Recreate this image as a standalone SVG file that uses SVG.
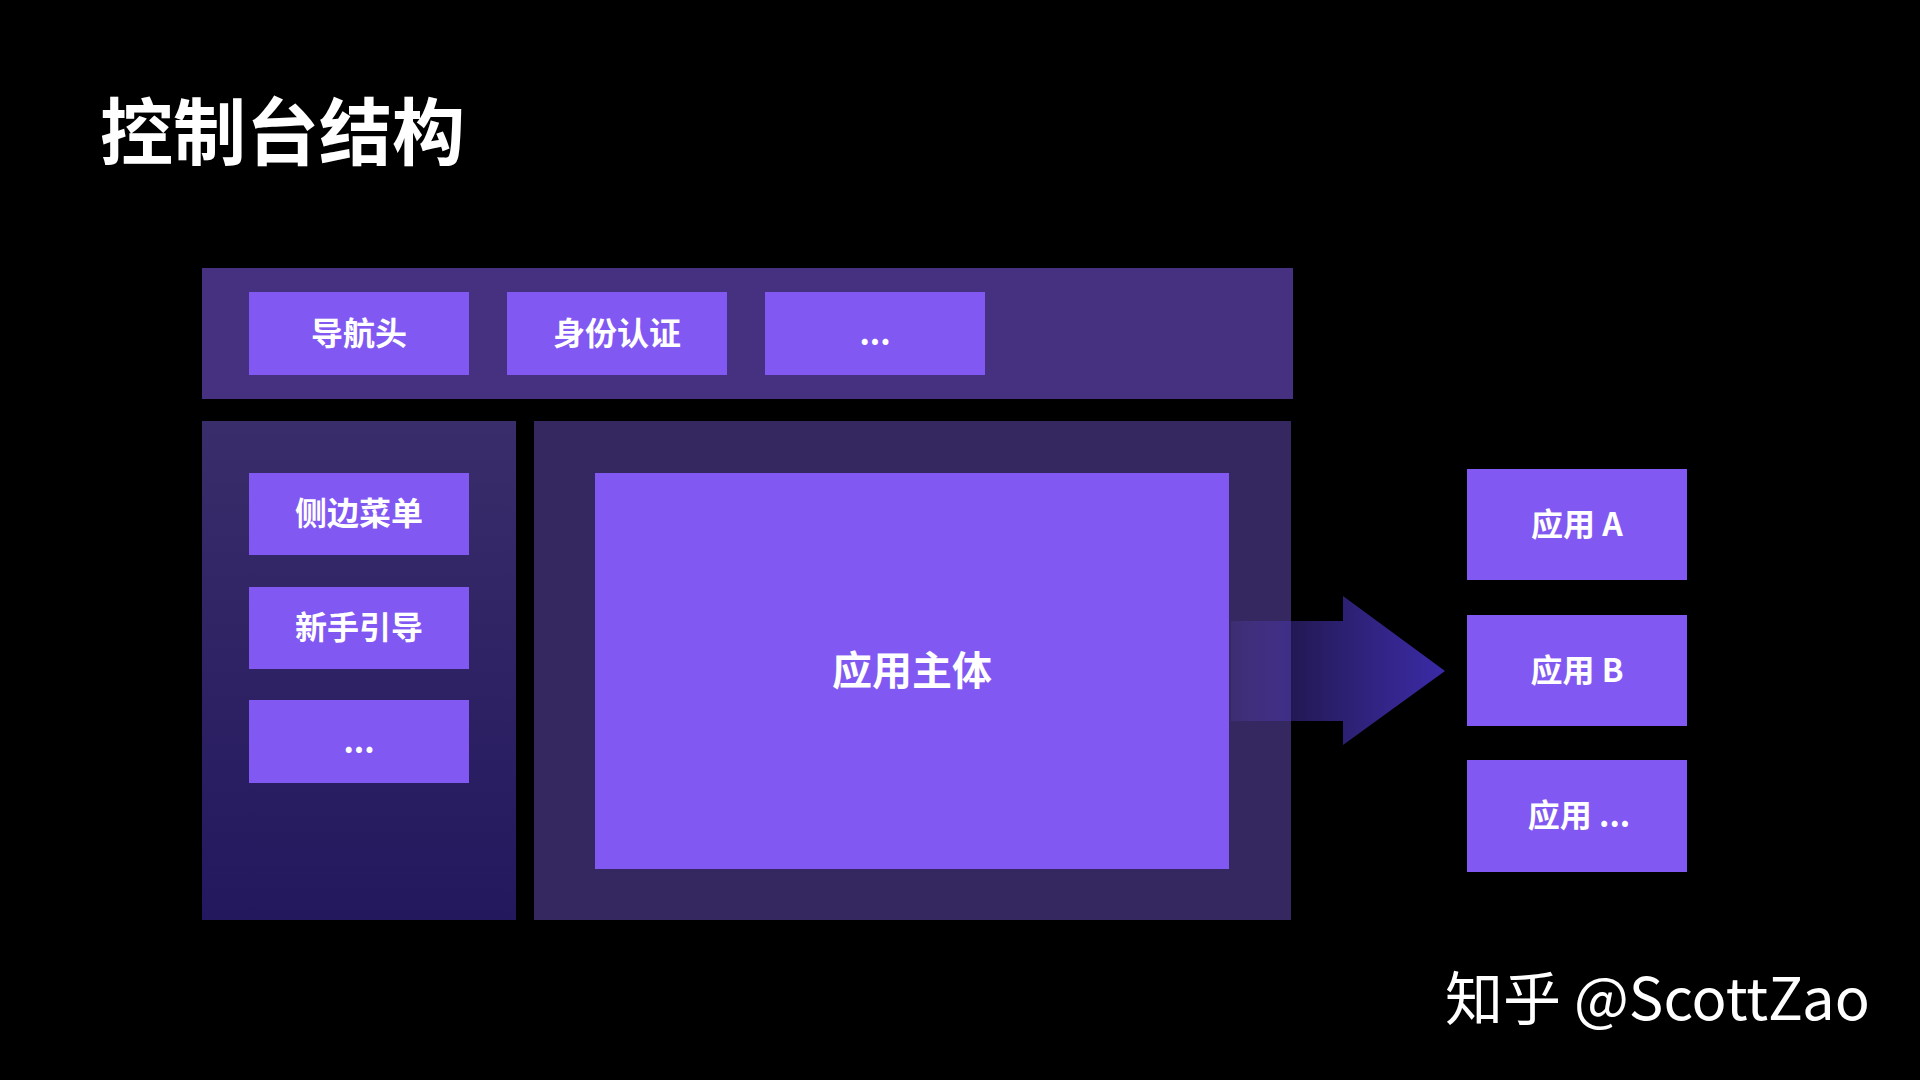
<svg xmlns="http://www.w3.org/2000/svg" width="1920" height="1080" viewBox="0 0 1920 1080">
<defs>
<style>
.box{fill:#8258f2}
.lbl{font-family:"Noto Sans CJK SC","Noto Sans",sans-serif;font-weight:bold;fill:#ffffff;text-anchor:middle;font-size:32px}
</style>
<linearGradient id="leftGrad" x1="0" y1="0" x2="0" y2="1">
<stop offset="0" stop-color="#3a2d6b"/>
<stop offset="1" stop-color="#23185e"/>
</linearGradient>
<linearGradient id="arrowGrad" gradientUnits="userSpaceOnUse" x1="1231" y1="0" x2="1445" y2="0">
<stop offset="0" stop-color="#6a50e0" stop-opacity="0.15"/>
<stop offset="0.28" stop-color="#4a36b8" stop-opacity="0.45"/>
<stop offset="1" stop-color="#3a2aa6" stop-opacity="1"/>
</linearGradient>
</defs>
<rect x="0" y="0" width="1920" height="1080" fill="#000000"/>
<text x="100" y="159" font-family="Noto Sans CJK SC, sans-serif" font-weight="bold" font-size="73" fill="#ffffff">控制台结构</text>

<g id="top-bar">
<rect x="202" y="268" width="1091" height="131" fill="#45317f"/>
</g>
<g id="nav-header">
<rect class="box" x="249" y="292" width="220" height="83"/>
<text class="lbl" x="359" y="345">导航头</text>
</g>
<g id="auth">
<rect class="box" x="507" y="292" width="220" height="83"/>
<text class="lbl" x="617" y="345">身份认证</text>
</g>
<g id="top-more">
<rect class="box" x="765" y="292" width="220" height="83"/>
<text class="lbl" x="875" y="345">...</text>
</g>

<g id="left-panel">
<rect x="202" y="421" width="314" height="499" fill="url(#leftGrad)"/>
</g>
<g id="side-menu">
<rect class="box" x="249" y="473" width="220" height="82"/>
<text class="lbl" x="359" y="525">侧边菜单</text>
</g>
<g id="guide">
<rect class="box" x="249" y="587" width="220" height="82"/>
<text class="lbl" x="359" y="639">新手引导</text>
</g>
<g id="left-more">
<rect class="box" x="249" y="700" width="220" height="83"/>
<text class="lbl" x="359" y="753">...</text>
</g>

<g id="main-panel">
<rect x="534" y="421" width="757" height="499" fill="#35275f"/>
</g>
<g id="app-body">
<rect class="box" x="595" y="473" width="634" height="396"/>
<text class="lbl" x="912" y="685" style="font-size:40px">应用主体</text>
</g>

<g id="connectors">
<polygon points="1231,621 1343,621 1343,596 1445,671 1343,745 1343,721 1231,721" fill="url(#arrowGrad)"/>
</g>

<g id="app-a">
<rect class="box" x="1467" y="469" width="220" height="111"/>
<text class="lbl" x="1577" y="536">应用 A</text>
</g>
<g id="app-b">
<rect class="box" x="1467" y="615" width="220" height="111"/>
<text class="lbl" x="1577" y="682">应用 B</text>
</g>
<g id="app-more">
<rect class="box" x="1467" y="760" width="220" height="112"/>
<text class="lbl" x="1579" y="827">应用 ...</text>
</g>

<text x="1445" y="1020" font-family="Noto Sans CJK SC, sans-serif" font-size="58" fill="#ffffff">知乎 @ScottZao</text>
</svg>
